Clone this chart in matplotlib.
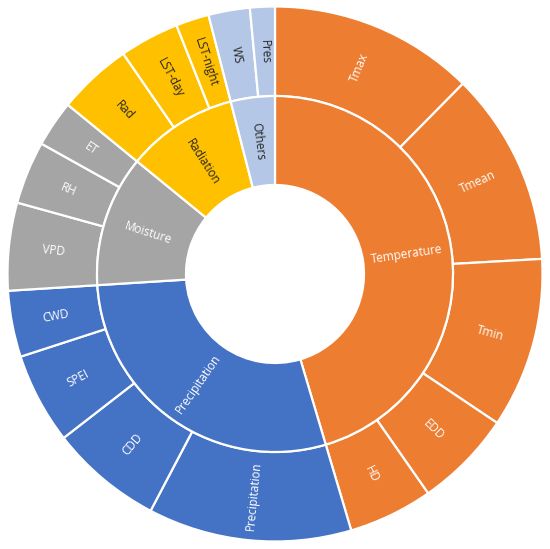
import numpy as np
import matplotlib
matplotlib.use("Agg")
import matplotlib.pyplot as plt

# ---- data (share of total, %) ----
groups = ["Temperature", "Precipitation", "Moisture", "Radiation", "Others"]
group_colors = ["#ED7D31", "#4472C4", "#A5A5A5", "#FFC000", "#B4C7E7"]
group_text = ["white", "white", "white", "#262626", "#262626"]

temperature_vars = ["Tmax", "Tmean", "Tmin", "EDD", "HD"]
temperature_vals = [12.4, 11.7, 10.3, 5.9, 5.1]
precip_vars = ["Precipitation", "CDD", "SPEI", "CWD"]
precip_vals = [12.3, 6.8, 5.5, 4.0]
moisture_vars = ["VPD", "RH", "ET"]
moisture_vals = [5.3, 3.8, 2.8]
radiation_vars = ["Rad", "LST-day", "LST-night"]
radiation_vals = [4.5, 3.6, 2.0]
others_vars = ["WS", "Pres"]
others_vals = [2.5, 1.5]

children = [
    (temperature_vars, temperature_vals),
    (precip_vars, precip_vals),
    (moisture_vars, moisture_vals),
    (radiation_vars, radiation_vals),
    (others_vars, others_vals),
]

inner_vals = [sum(v) for _, v in children]
outer_labels, outer_vals, outer_colors, outer_text = [], [], [], []
for (names, vals), c, tc in zip(children, group_colors, group_text):
    outer_labels += names
    outer_vals += vals
    outer_colors += [c] * len(vals)
    outer_text += [tc] * len(vals)

plt.rcParams["font.family"] = ["Open Sans", "DejaVu Sans"]

fig = plt.figure(figsize=(5.5, 5.49), dpi=100)
ax = fig.add_axes([0, 0, 1, 1])

R_out, R_mid, R_hole = 267.5, 178.0, 89.0
wp = dict(edgecolor="white", linewidth=1.6)

w_out, _ = ax.pie(outer_vals, radius=R_out, colors=outer_colors, startangle=90,
                  counterclock=False, wedgeprops=dict(width=R_out - R_mid, **wp))
w_in, _ = ax.pie(inner_vals, radius=R_mid, colors=group_colors, startangle=90,
                 counterclock=False, wedgeprops=dict(width=R_mid - R_hole, **wp))


def put_labels(wedges, labels, colors, r):
    for w, lab, tc in zip(wedges, labels, colors):
        th = 0.5 * (w.theta1 + w.theta2)
        th = (th + 180) % 360 - 180
        x = r * np.cos(np.deg2rad(th))
        y = r * np.sin(np.deg2rad(th))
        rot = th if -90 <= th <= 90 else th + 180
        ax.text(x, y, lab, rotation=rot, rotation_mode="anchor", ha="center",
                va="center", color=tc, fontsize=8.5)


put_labels(w_out, outer_labels, outer_text, (R_out + R_mid) / 2)
put_labels(w_in, groups, group_text, (R_mid + R_hole) / 2)

ax.set_xlim(-275, 275)
ax.set_ylim(-275, 274)
ax.set_aspect("equal")
ax.axis("off")
fig.savefig("out.png", dpi=100, facecolor="white")
